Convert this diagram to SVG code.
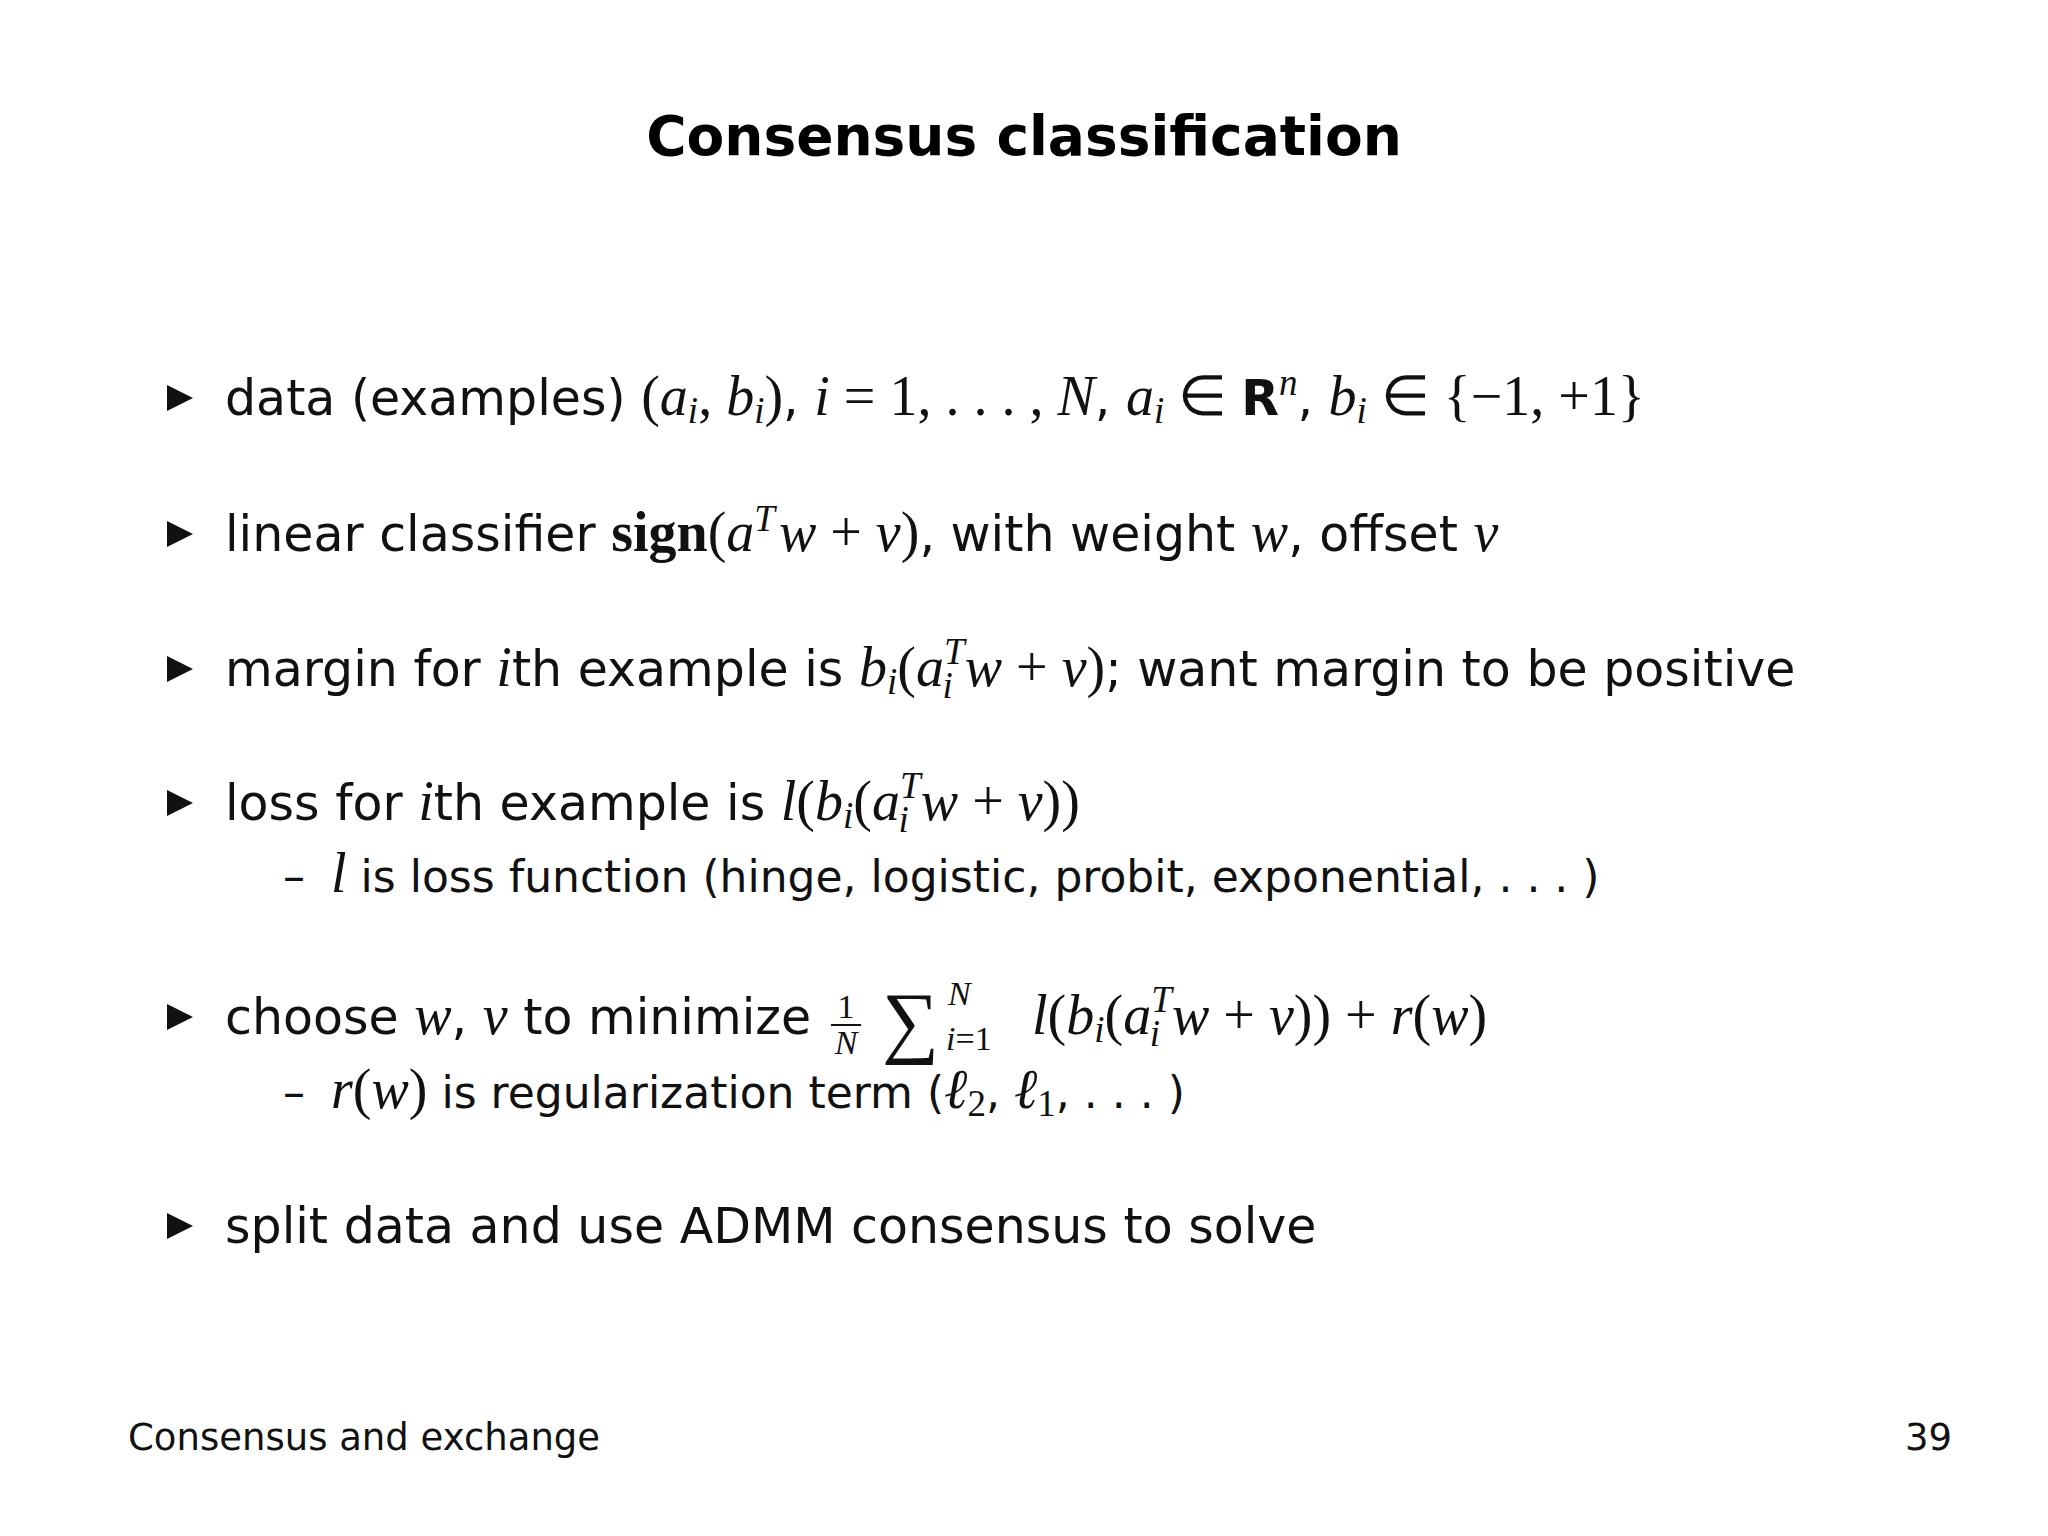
<svg xmlns="http://www.w3.org/2000/svg" width="2048" height="1536" viewBox="0 0 2048 1536">
<style>
.t{font-family:"DejaVu Sans","Liberation Sans",sans-serif;font-size:49px;fill:#111}
.u{font-size:44px}
.m{font-family:"Liberation Serif",serif;font-style:italic;font-size:56px}
.r{font-family:"Liberation Serif",serif;font-style:normal;font-size:56px}
.s{font-size:37px}
.b{fill:#111}
</style>
<rect width="2048" height="1536" fill="#fff"/>
<text x="1024" y="155" text-anchor="middle" font-family="DejaVu Sans,sans-serif" font-weight="bold" font-size="55" fill="#000">Consensus classification</text>
<g class="b">
<polygon points="167,385 193,398 167,411"/>
<polygon points="167,521 193,534 167,547"/>
<polygon points="167,656 193,669 167,682"/>
<polygon points="167,790 193,803 167,816"/>
<polygon points="167,1004 193,1017 167,1030"/>
<polygon points="167,1213 193,1226 167,1239"/>
</g>
<text class="t" x="225" y="415">data (examples) <tspan class="r">(</tspan><tspan class="m">a<tspan class="s" dy="8">i</tspan><tspan dy="-8" class="r">, </tspan>b<tspan class="s" dy="8">i</tspan></tspan><tspan class="r" dy="-8">)</tspan>, <tspan class="m">i</tspan><tspan class="r"> = 1, . . . , </tspan><tspan class="m">N</tspan>, <tspan class="m">a<tspan class="s" dy="8">i</tspan></tspan><tspan class="r" dy="-8"> ∈ </tspan><tspan font-weight="bold">R</tspan><tspan class="m s" dy="-20">n</tspan><tspan dy="20">, </tspan><tspan class="m">b<tspan class="s" dy="8">i</tspan></tspan><tspan class="r" dy="-8"> ∈ {−1, +1}</tspan></text>
<text class="t" x="225" y="551">linear classifier <tspan class="r" font-weight="bold">sign</tspan><tspan class="r">(</tspan><tspan class="m">a</tspan><tspan class="m s" dy="-20">T</tspan><tspan class="m" dy="20" dx="4">w</tspan><tspan class="r"> + </tspan><tspan class="m">v</tspan><tspan class="r">)</tspan>, with weight <tspan class="m">w</tspan>, offset <tspan class="m">v</tspan></text>
<text class="t" x="225" y="686">margin for <tspan class="m">i</tspan>th example is <tspan class="m">b<tspan class="s" dy="8">i</tspan></tspan><tspan class="r" dy="-8">(</tspan><tspan class="m">a</tspan><tspan class="m s" dy="-22">T</tspan><tspan class="m s" dx="-20" dy="34">i</tspan><tspan class="m" dy="-12" dx="12">w</tspan><tspan class="r"> + </tspan><tspan class="m">v</tspan><tspan class="r">)</tspan>; want margin to be positive</text>
<text class="t" x="225" y="820">loss for <tspan class="m">i</tspan>th example is <tspan class="m">l</tspan><tspan class="r">(</tspan><tspan class="m">b<tspan class="s" dy="8">i</tspan></tspan><tspan class="r" dy="-8">(</tspan><tspan class="m">a</tspan><tspan class="m s" dy="-22">T</tspan><tspan class="m s" dx="-20" dy="34">i</tspan><tspan class="m" dy="-12" dx="12">w</tspan><tspan class="r"> + </tspan><tspan class="m">v</tspan><tspan class="r">))</tspan></text>
<text class="t u" x="283" y="892">– <tspan class="m" dx="12" font-size="50">l</tspan> is loss function (hinge, logistic, probit, exponential, . . . )</text>
<text class="t" x="225" y="1034">choose <tspan class="m">w</tspan>, <tspan class="m">v</tspan> to minimize</text>
<g font-family="Liberation Serif,serif" font-size="34" fill="#111">
<text x="846" y="1018" text-anchor="middle">1</text>
<line x1="831" y1="1025" x2="861" y2="1025" stroke="#111" stroke-width="2"/>
<text x="846" y="1054" text-anchor="middle" font-style="italic">N</text>
<text x="882" y="1048" font-size="80">∑</text>
<text x="948" y="1005" font-style="italic">N</text>
<text x="946" y="1050"><tspan font-style="italic">i</tspan>=1</text>
</g>
<text class="t" x="1032" y="1034"><tspan class="m">l</tspan><tspan class="r">(</tspan><tspan class="m">b<tspan class="s" dy="8">i</tspan></tspan><tspan class="r" dy="-8">(</tspan><tspan class="m">a</tspan><tspan class="m s" dy="-22">T</tspan><tspan class="m s" dx="-20" dy="34">i</tspan><tspan class="m" dy="-12" dx="12">w</tspan><tspan class="r"> + </tspan><tspan class="m">v</tspan><tspan class="r">)) + </tspan><tspan class="m">r</tspan><tspan class="r">(</tspan><tspan class="m">w</tspan><tspan class="r">)</tspan></text>
<text class="t u" x="283" y="1108">– <tspan class="m" dx="12" font-size="50">r</tspan><tspan class="r" font-size="50">(</tspan><tspan class="m" font-size="50">w</tspan><tspan class="r" font-size="50">)</tspan> is regularization term (<tspan class="m" font-size="50">ℓ</tspan><tspan class="r s" dy="8">2</tspan><tspan dy="-8">, </tspan><tspan class="m" font-size="50">ℓ</tspan><tspan class="r s" dy="8">1</tspan><tspan dy="-8">, . . . )</tspan></text>
<text class="t" x="225" y="1243">split data and use ADMM consensus to solve</text>
<text x="128" y="1450" font-family="DejaVu Sans,sans-serif" font-size="37" fill="#111">Consensus and exchange</text>
<text x="1952" y="1450" text-anchor="end" font-family="DejaVu Sans,sans-serif" font-size="37" fill="#111">39</text>
</svg>
